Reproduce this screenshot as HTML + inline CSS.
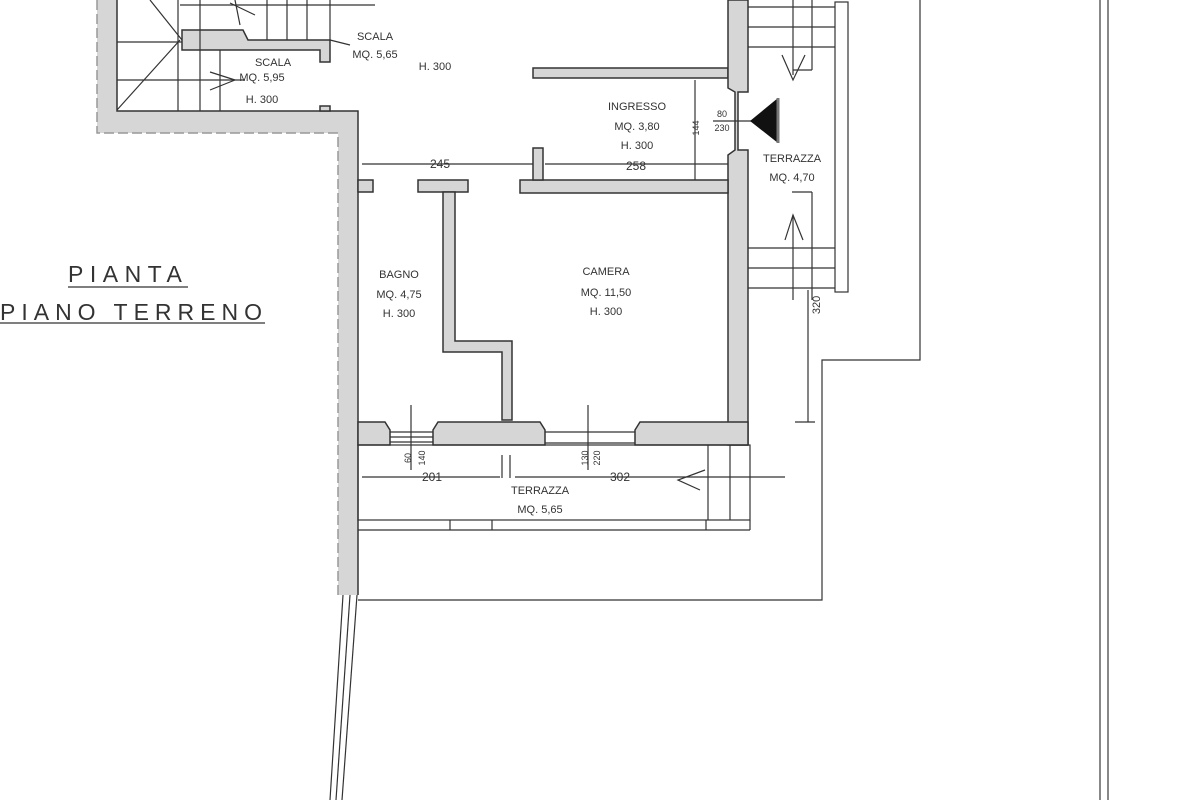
<!DOCTYPE html>
<html><head><meta charset="utf-8"><style>
html,body{margin:0;padding:0;background:#fff}
svg{display:block}
text{font-family:"Liberation Sans",sans-serif;fill:#333}
</style></head><body>
<svg width="1200" height="800" viewBox="0 0 1200 800" xmlns="http://www.w3.org/2000/svg">
<g stroke="#333" stroke-width="1.5" fill="#d6d6d6">
<path d="M97,0 L97,133 L338,133 L338,595 L358,595 L358,111 L117,111 L117,0 Z" stroke="none"/>
<path d="M117,0 L117,111 L358,111 L358,595" fill="none"/>
<path d="M97,0 L97,133 L338,133 L338,595" fill="none" stroke="#999" stroke-dasharray="10 4"/>
<path d="M182,30 L243,30 L248,40 L330,40 L330,62 L320,62 L320,50 L182,50 Z"/>
<rect x="320" y="106" width="10" height="5"/>
<rect x="533" y="68" width="195" height="10"/>
<path d="M728,0 L748,0 L748,92 L738,92 L738,150 L748,150 L748,445 L728,445 L728,155 L735,150 L735,92 L728,88 Z"/>
<rect x="520" y="180" width="208" height="13"/>
<rect x="533" y="148" width="10" height="32"/>
<rect x="358" y="180" width="15" height="12"/>
<rect x="418" y="180" width="50" height="12"/>
<path d="M443,192 L455,192 L455,341 L512,341 L512,420 L502,420 L502,352 L443,352 Z"/>
<path d="M358,422 L385,422 L390,430 L390,445 L358,445 Z"/>
<path d="M433,430 L438,422 L540,422 L545,430 L545,445 L433,445 Z"/>
<path d="M635,430 L640,422 L728,422 L748,422 L748,445 L635,445 Z"/>
</g>
<g stroke="#333" stroke-width="1.2" fill="none">
<line x1="117" y1="42" x2="182" y2="42"/><line x1="117" y1="80" x2="245" y2="80"/>
<line x1="178" y1="0" x2="178" y2="111"/><line x1="200" y1="0" x2="200" y2="111"/><line x1="220" y1="50" x2="220" y2="111"/>
<line x1="117" y1="110" x2="180" y2="40"/><line x1="150" y1="0" x2="182" y2="40"/>
<line x1="267" y1="0" x2="267" y2="40"/><line x1="287" y1="0" x2="287" y2="40"/><line x1="307" y1="0" x2="307" y2="40"/><line x1="330" y1="0" x2="330" y2="40"/>
<line x1="180" y1="5" x2="375" y2="5"/>
<path d="M210,72 L235,80 L210,90"/><line x1="330" y1="40" x2="350" y2="45"/>
<path d="M230,3 L255,15 M235,0 L240,25"/>
<line x1="390" y1="432" x2="433" y2="432"/><line x1="390" y1="437" x2="433" y2="437"/><line x1="390" y1="442" x2="433" y2="442"/>
<line x1="545" y1="432" x2="635" y2="432"/><line x1="545" y1="443" x2="635" y2="443"/>
<line x1="411" y1="405" x2="411" y2="470"/><line x1="588" y1="405" x2="588" y2="470"/>
<rect x="358" y="445" width="392" height="75"/>
<line x1="358" y1="530" x2="750" y2="530"/><line x1="750" y1="520" x2="750" y2="530"/>
<line x1="450" y1="520" x2="450" y2="530"/><line x1="492" y1="520" x2="492" y2="530"/><line x1="706" y1="520" x2="706" y2="530"/>
<line x1="708" y1="445" x2="708" y2="520"/><line x1="730" y1="445" x2="730" y2="520"/>
<line x1="362" y1="477" x2="500" y2="477"/><line x1="515" y1="477" x2="785" y2="477"/>
<line x1="502" y1="455" x2="502" y2="478"/><line x1="510" y1="455" x2="510" y2="478"/>
<path d="M705,470 L678,480 L700,490"/>
<line x1="362" y1="164" x2="533" y2="164"/><line x1="545" y1="164" x2="728" y2="164"/>
<line x1="695" y1="80" x2="695" y2="180"/>
<line x1="713" y1="121" x2="770" y2="121"/>
<polyline points="358,600 822,600 822,360 920,360 920,0"/>
<line x1="1100" y1="0" x2="1100" y2="800" stroke="#888" stroke-width="2"/>
<line x1="1108" y1="0" x2="1108" y2="800" stroke="#888" stroke-width="2"/>
<line x1="343" y1="595" x2="330" y2="800"/><line x1="350" y1="595" x2="336" y2="800"/><line x1="357" y1="595" x2="342" y2="800"/>
<rect x="835" y="2" width="13" height="290"/>
<line x1="748" y1="7" x2="835" y2="7"/><line x1="748" y1="27" x2="835" y2="27"/><line x1="748" y1="47" x2="835" y2="47"/>
<line x1="748" y1="248" x2="835" y2="248"/><line x1="748" y1="268" x2="835" y2="268"/><line x1="748" y1="288" x2="835" y2="288"/>
<line x1="793" y1="0" x2="793" y2="75"/><line x1="812" y1="0" x2="812" y2="70"/>
<line x1="793" y1="215" x2="793" y2="300"/><line x1="812" y1="192" x2="812" y2="300"/>
<path d="M782,55 L793,80 L805,55"/><path d="M785,240 L793,215 L803,240"/>
<line x1="793" y1="70" x2="812" y2="70"/><line x1="792" y1="192" x2="812" y2="192"/>
<line x1="808" y1="290" x2="808" y2="422"/><line x1="795" y1="422" x2="815" y2="422"/>
</g>
<path d="M750,121 L778,98 L778,143 Z" fill="#111"/>
<line x1="778" y1="98" x2="778" y2="143" stroke="#777" stroke-width="3"/>
<g font-size="11" text-anchor="middle">
<text x="273" y="66">SCALA</text><text x="262" y="81">MQ. 5,95</text><text x="262" y="103">H. 300</text>
<text x="375" y="40">SCALA</text><text x="375" y="58">MQ. 5,65</text><text x="435" y="70">H. 300</text>
<text x="637" y="110">INGRESSO</text><text x="637" y="130">MQ. 3,80</text><text x="637" y="149">H. 300</text>
<text x="440" y="168" font-size="12">245</text><text x="636" y="170" font-size="12">258</text>
<text x="792" y="162">TERRAZZA</text><text x="792" y="181">MQ. 4,70</text>
<text x="399" y="278">BAGNO</text><text x="399" y="298">MQ. 4,75</text><text x="399" y="317">H. 300</text>
<text x="606" y="275">CAMERA</text><text x="606" y="296">MQ. 11,50</text><text x="606" y="315">H. 300</text>
<text x="540" y="494">TERRAZZA</text><text x="540" y="513">MQ. 5,65</text>
<text x="432" y="481" font-size="12">201</text><text x="620" y="481" font-size="12">302</text>
<text x="722" y="117" font-size="9">80</text><text x="722" y="131" font-size="9">230</text>
</g>
<g font-size="9" text-anchor="middle">
<text transform="translate(699,128) rotate(-90)">144</text>
<text transform="translate(411,458) rotate(-90)">60</text><text transform="translate(425,458) rotate(-90)">140</text>
<text transform="translate(588,458) rotate(-90)">130</text><text transform="translate(600,458) rotate(-90)">220</text>
<text transform="translate(820,305) rotate(-90)" font-size="11">320</text>
</g>
<g font-size="23">
<text x="68" y="282" style="letter-spacing:6.5px">PIANTA</text>
<text x="0" y="320" style="letter-spacing:6px">PIANO TERRENO</text>
</g>
<line x1="68" y1="287" x2="188" y2="287" stroke="#333" stroke-width="1.3"/>
<line x1="0" y1="323" x2="265" y2="323" stroke="#333" stroke-width="1.3"/>
</svg>
</body></html>
